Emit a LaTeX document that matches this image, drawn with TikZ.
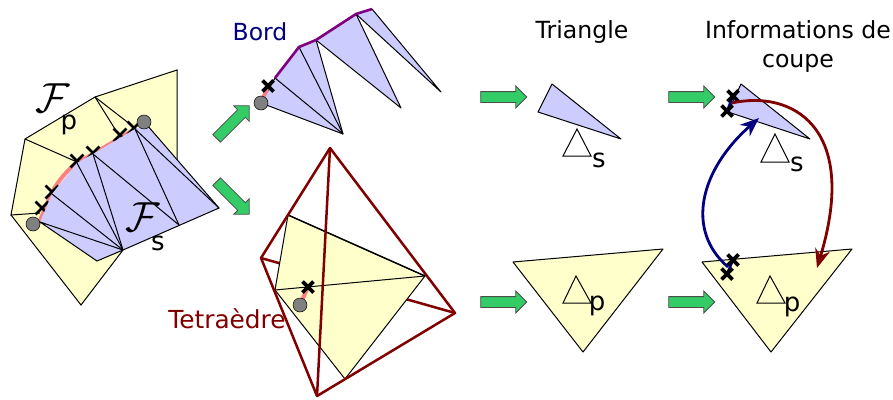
\documentclass[tikz,border=0pt]{standalone}
\usepackage{fontspec}
\setmainfont{DejaVu Sans}
\usetikzlibrary{arrows.meta,shapes.arrows,shapes.misc}
\definecolor{cutyellow}{RGB}{255,255,204}
\definecolor{cutblue}{RGB}{204,204,255}
\definecolor{cutsalmon}{RGB}{255,128,128}
\definecolor{cutgreen}{RGB}{51,204,102}
\definecolor{cutred}{RGB}{128,0,0}
\definecolor{cutnavy}{RGB}{0,0,128}
\definecolor{cutpurple}{RGB}{128,0,128}
\begin{document}
\begin{tikzpicture}[
  x=1pt, y=-1pt,
  yface/.style={fill=cutyellow, draw=black, line width=1pt, line join=round},
  bface/.style={fill=cutblue, draw=black, line width=1pt, line join=round},
  edgeline/.style={draw=black, line width=1pt},
  tetra/.style={draw=cutred, line width=2.5pt, line join=round},
  seam/.style={draw=cutsalmon, line width=4pt},
  vertexdot/.style={circle, fill=gray, draw=black, line width=0.5pt, minimum size=14pt, inner sep=0pt},
  xmark/.style={cross out, draw=black, line width=3.6pt, minimum size=11pt, inner sep=0pt, outer sep=0pt},
  smallx/.style={cross out, draw=black, line width=2.8pt, minimum size=10pt, inner sep=0pt},
  greenarrow/.style={single arrow, fill=cutgreen, draw=black!70, line width=0.8pt,
    minimum height=46pt, single arrow head extend=5.5pt, inner sep=5pt},
  label/.style={font=\fontsize{23.6}{26}\selectfont, text=black, inner sep=0pt},
  subidx/.style={font=\fontsize{26}{26}\selectfont, text=black, inner sep=0pt},
  calF/.style={scale=4.2, inner sep=0pt, text=black},
  curveback/.style={-{Stealth[length=19pt,width=15pt]}, line width=2.8pt}
]
\useasboundingbox (0,0) rectangle (893,399);

% left figure
\fill[cutyellow] (11,215) -- (25,139) -- (95,97) -- (177,70) -- (177,165) -- (123,250) -- (81,305) -- cycle;
\draw[edgeline] (40,213) -- (11,215) -- (25,139) -- (95,97) -- (177,70) -- (177,165);
\draw[edgeline] (11,215) -- (81,305) -- (123,250);
\draw[edgeline] (25,139) -- (77,162);
\draw[edgeline] (95,97) -- (120,137);
\draw[edgeline] (95,97) -- (135,128);
\draw[seam] (39,223) -- (51,194) .. controls (58,181) and (67,170) .. (77,163) -- (93,154) -- (135,129);
\foreach \px/\py [count=\i] in {42/208, 52/192, 77/161, 93/153, 120/135, 134/128}
  \node[smallx] (fx\i) at (\px,\py) {};
\fill[cutblue] (40,222) -- (52,194) -- (77,163) -- (93,154) -- (135,129) -- (147,125) -- (219,208) -- (123,250) -- (97,261) -- cycle;
\draw[edgeline] (147,125) -- (219,208) -- (123,250) -- (97,261) -- (40,222) -- (123,250);
\draw[edgeline] (52,194) -- (123,250);
\draw[edgeline] (77,163) -- (123,250);
\draw[edgeline] (93,154) -- (123,250);
\draw[edgeline] (93,154) -- (179,225);
\draw[edgeline] (135,129) -- (179,225);
\draw[edgeline] (135,129) -- (219,208);
\node[vertexdot] (fa) at (33,224) {};
\node[vertexdot] (fb) at (144,122) {};
\node[calF] (fp) at (53,98) {$\mathcal{F}$};
\node[subidx] (fpi) at (69,125) {p};
\node[calF] (fs) at (143,217) {$\mathcal{F}$};
\node[subidx] (fsi) at (158,243) {s};

% bord
\draw[bface] (275,78) -- (299,47) -- (316,40) -- (343,134) -- (261,103) -- cycle;
\draw[bface] (316,40) -- (356,14) -- (401,108) -- cycle;
\draw[bface] (356,14) -- (372,9) -- (441,92) -- cycle;
\draw[edgeline] (275,78) -- (343,134);
\draw[edgeline] (299,47) -- (343,134);
\draw[seam] (261,103) -- (268,86);
\draw[draw=cutpurple, line width=2.6pt] (275,78) -- (299,47) -- (316,40) -- (356,14) -- (372,9);
\node[xmark] (bx) at (268,86) {};
\node[vertexdot] (bv) at (261,103) {};
\node[font=\fontsize{23.5}{26}\selectfont, text=cutnavy, inner sep=0pt] (bord) at (260,32) {Bord};

% tetraedre
\draw[tetra] (261,258) -- (455,313);
\draw[yface] (288,215) -- (425,276) -- (345,379) -- (275,290) -- cycle;
\draw[edgeline] (275,290) -- (425,276);
\draw[draw=black, line width=1.4pt] (288,215) -- (425,276);
\draw[seam] (300,305) -- (308,287);
\node[xmark] (tx) at (308,287) {};
\node[vertexdot] (tv) at (300,305) {};
\draw[tetra] (330,148) -- (261,258) -- (317,396) -- (455,313) -- cycle;
\draw[tetra] (330,148) -- (317,396);
\node[font=\fontsize{24.8}{26}\selectfont, text=cutred, inner sep=0pt] (tetraedre) at (227,319) {Tetraèdre};

% triangles
\node[label] (triangle) at (582,32) {Triangle};
\draw[bface] (552,84) -- (538,112) -- (621,139) -- cycle;
\draw[fill=white, draw=black, line width=1pt] (577,129) -- (563,156) -- (591,156) -- cycle;
\node[subidx] (ts) at (599,160) {s};
\draw[yface] (513,262) -- (663,249) -- (583,352) -- cycle;
\draw[edgeline] (576,276) -- (563,303) -- (591,303) -- cycle;
\node[subidx] (tp) at (597,306) {p};

% coupe
\node[label, align=center] (infos) at (798,46) {Informations de\\[3pt]coupe};
\draw[bface] (741,84) -- (728,112) -- (810,139) -- cycle;
\draw[fill=white, draw=black, line width=1pt] (775,134) -- (761,162) -- (789,162) -- cycle;
\node[subidx] (cs) at (797,164) {s};
\draw[yface] (702,262) -- (852,249) -- (771,352) -- cycle;
\draw[edgeline] (770,276) -- (757,303) -- (785,303) -- cycle;
\node[subidx] (cp) at (792,307) {p};
\draw[draw=cutnavy, line width=2.5pt] (727,111) -- (733,96);
\draw[draw=cutnavy, line width=2.5pt] (727,274) -- (733,260);
\node[xmark] (cx1) at (733,96) {};
\node[xmark] (cx2) at (727,111) {};
\node[xmark] (cx3) at (733,260) {};
\node[xmark] (cx4) at (727,274) {};
\coordinate (cb1) at (728,267);
\coordinate (cb2) at (759,118);
\coordinate (cr1) at (732,103);
\coordinate (cr2) at (817,268);
\draw[curveback, draw=cutnavy] (cb1) .. controls (685,230) and (700,170) .. (cb2);
\draw[curveback, draw=cutred] (cr1) .. controls (790,90) and (860,125) .. (cr2);

% fleches
\node[greenarrow, rotate=45] (a1) at (231,124) {};
\node[greenarrow, rotate=-45] (a2) at (231,196) {};
\node[greenarrow] (a3) at (501,97) {};
\node[greenarrow] (a4) at (501,302) {};
\node[greenarrow] (a5) at (689,97) {};
\node[greenarrow] (a6) at (689,302) {};
\end{tikzpicture}
\end{document}
